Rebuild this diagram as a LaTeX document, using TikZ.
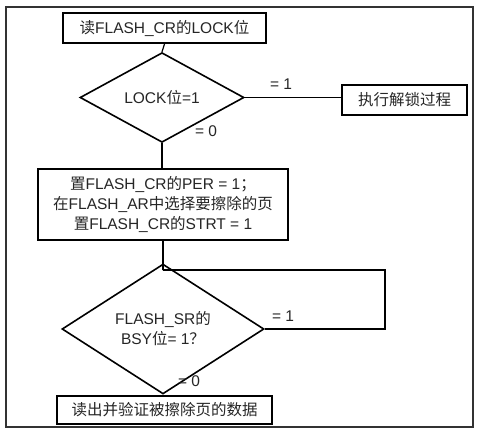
\documentclass[tikz,border=0pt]{standalone}
\usepackage{fontspec}
\setmainfont{Liberation Sans}
\newfontfamily\cjk{Noto Sans CJK SC}
\usetikzlibrary{shapes.geometric}
\tikzset{
  x=1pt, y=-1pt,
  txt/.style={font=\fontsize{15.5}{20}\selectfont, text=black!85, align=center, inner sep=0pt},
  box/.style={txt, draw=black, line width=2pt, rectangle},
  dec/.style={txt, draw=black, line width=1.6pt, diamond, inner sep=0pt},
  conn/.style={draw=black, line width=1.2pt},
  lbl/.style={txt},
  frame/.style={draw=black!80, line width=1.4pt}
}
\begin{document}
\begin{tikzpicture}
\useasboundingbox (0,0) rectangle (479,434);
\fill[white] (0,0) rectangle (479,434);
\draw[frame] (6,7) rectangle (473,427);

\node[box, minimum width=203pt, minimum height=30pt] (start) at (164.5,28) {{\cjk 读}FLASH\_CR{\cjk 的}LOCK{\cjk 位}};
\node[dec, minimum width=164pt, minimum height=59pt] (d1) at (162,97.5) {LOCK{\cjk 位}=1};
\node[box, minimum width=125pt, minimum height=30pt] (unlock) at (404.5,100) {\cjk 执行解锁过程};
\node[box, minimum width=250pt, minimum height=71pt] (setup) at (163,204.5) {{\cjk 置}FLASH\_CR{\cjk 的}PER = 1{\cjk ；}\\{\cjk 在}FLASH\_AR{\cjk 中选择要擦除的页}\\{\cjk 置}FLASH\_CR{\cjk 的}STRT = 1};
\node[dec, minimum width=202pt, minimum height=84pt] (d2) at (163,329) {FLASH\_SR{\cjk 的}\\BSY{\cjk 位}= 1{\cjk ？}};
\node[box, minimum width=215pt, minimum height=28pt] (verify) at (164.5,410) {\cjk 读出并验证被擦除页的数据};

\coordinate (j) at (163,270);
\coordinate (loop) at (385,270);

\draw[conn] (start.south) -- (d1.north);
\draw[conn] (d1.east) -- (d1.east -| unlock.west);
\draw[conn] (d1.south) -- (d1.south |- setup.north);
\draw[conn] (setup.south -| j) -- (j) -- (d2.north);
\draw[conn] (j) -- (loop) |- (d2.east);
\draw[conn] (d2.south) -- (d2.south |- verify.north);

\node[lbl] (l1) at (281,84) {= 1};
\node[lbl] (l0) at (206,131) {= 0};
\node[lbl] (l1b) at (283,316) {= 1};
\node[lbl] (l0b) at (189,381) {= 0};
\end{tikzpicture}
\end{document}
